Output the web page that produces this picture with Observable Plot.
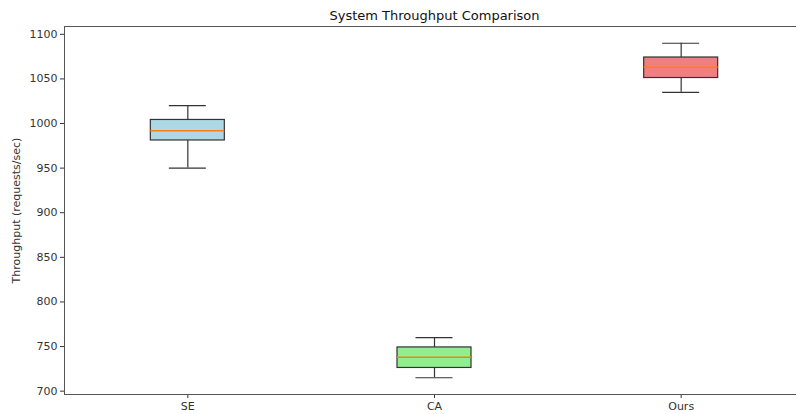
<!DOCTYPE html>
<html>
<head>
<meta charset="utf-8">
<script src="https://cdn.jsdelivr.net/npm/d3@7"></script>
<script src="https://cdn.jsdelivr.net/npm/@observablehq/plot@0.6"></script>
<style>
  html, body { margin: 0; padding: 0; background: #fff; overflow: hidden; }
  #chart svg { overflow: hidden; display: block; }
</style>
</head>
<body>
<div id="chart"></div>
<script>
const categories = ["SE", "CA", "Ours"];
const whiskerLow = [950, 715, 1035];
const q1 = [981, 726, 1051];
const median = [992, 738, 1063];
const q3 = [1004, 749, 1074];
const whiskerHigh = [1020, 760, 1090];
const boxColors = ["#add8e6", "#90ee90", "#f08080"];
const yTicks = [700, 750, 800, 850, 900, 950, 1000, 1050, 1100];
const title = "System Throughput Comparison";
const yLabel = "Throughput (requests/sec)";

const boxHalf = 0.15, capHalf = 0.075;
const yDomain = [696.25, 1108.75];
const data = categories.map((c, i) => ({
  cat: c, pos: i + 1,
  lo: whiskerLow[i], q1: q1[i], med: median[i], q3: q3[i], hi: whiskerHigh[i],
  color: boxColors[i]
}));

const edge = "#333";
const spine = "#555";
const chart = Plot.plot({
  width: 796,
  height: 414,
  marginLeft: 64,
  marginRight: -8,
  marginTop: 26,
  marginBottom: 20,
  style: { fontFamily: "DejaVu Sans, sans-serif", fontSize: "11px", color: "#333", background: "#fff", overflow: "hidden" },
  x: {
    type: "linear",
    domain: [0.5, 3.5],
    ticks: [1, 2, 3],
    tickFormat: d => categories[d - 1],
    tickSize: 4,
    tickPadding: 4,
    label: null
  },
  y: {
    domain: yDomain,
    ticks: yTicks,
    tickFormat: d => String(d),
    tickSize: 4,
    tickPadding: 3,
    label: yLabel,
    labelAnchor: "center",
    labelArrow: "none",
    labelOffset: 52
  },
  marks: [
    Plot.ruleY(yDomain, { stroke: spine, strokeWidth: 1 }),
    Plot.ruleX([0.5], { stroke: spine, strokeWidth: 1 }),
    // whiskers
    Plot.ruleX(data, { x: "pos", y1: "q3", y2: "hi", stroke: edge, strokeWidth: 1.2 }),
    Plot.ruleX(data, { x: "pos", y1: "lo", y2: "q1", stroke: edge, strokeWidth: 1.2 }),
    // caps
    Plot.ruleY(data, { y: "hi", x1: d => d.pos - capHalf, x2: d => d.pos + capHalf, stroke: edge, strokeWidth: 1.2 }),
    Plot.ruleY(data, { y: "lo", x1: d => d.pos - capHalf, x2: d => d.pos + capHalf, stroke: edge, strokeWidth: 1.2 }),
    // boxes
    Plot.rect(data, { x1: d => d.pos - boxHalf, x2: d => d.pos + boxHalf, y1: "q1", y2: "q3", fill: "color", stroke: edge, strokeWidth: 1.2 }),
    // medians
    Plot.ruleY(data, { y: "med", x1: d => d.pos - boxHalf, x2: d => d.pos + boxHalf, stroke: "#ff7f0e", strokeWidth: 1.5 }),
    // title
    Plot.text([title], { frameAnchor: "top", dy: -11, text: d => d, fontSize: 13, fill: "#111", lineAnchor: "middle" })
  ]
});
document.getElementById("chart").appendChild(chart);
</script>
</body>
</html>
